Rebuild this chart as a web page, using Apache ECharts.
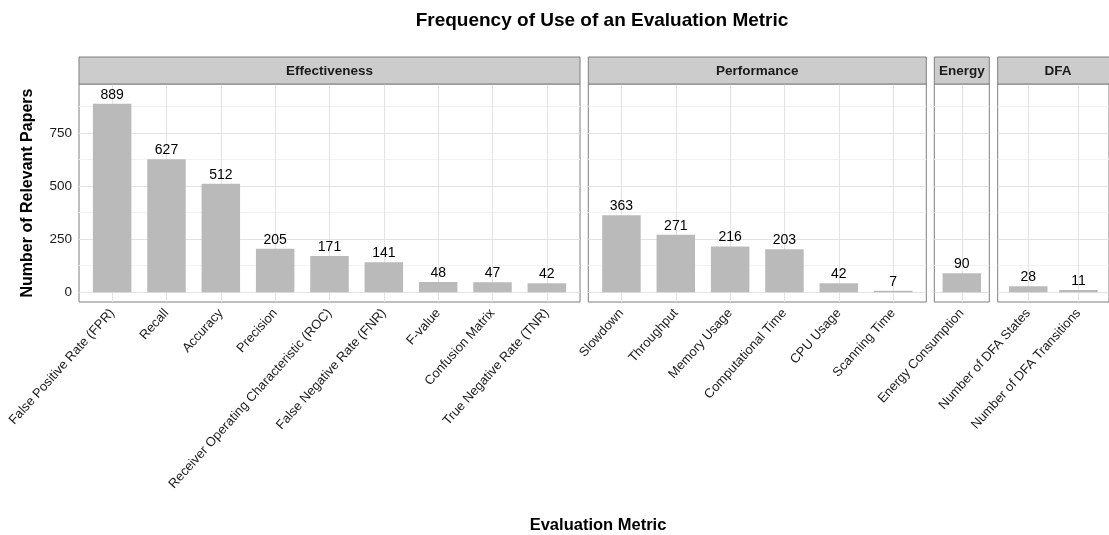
<!DOCTYPE html>
<html>
<head>
<meta charset="utf-8">
<script src="https://cdn.jsdelivr.net/npm/echarts@6/dist/echarts.min.js"></script>
<style>
html,body{margin:0;padding:0;background:#fff;overflow:hidden;}
#chart{width:1109px;height:535px;}
</style>
</head>
<body>
<div id="chart"></div>
<script>
// ---- data ----
const panelNames = ['Effectiveness', 'Performance', 'Energy', 'DFA'];
const effectivenessCats = ['False Positive Rate (FPR)', 'Recall', 'Accuracy', 'Precision', 'Receiver Operating Characteristic (ROC)', 'False Negative Rate (FNR)', 'F-value', 'Confusion Matrix', 'True Negative Rate (TNR)'];
const effectivenessVals = [889, 627, 512, 205, 171, 141, 48, 47, 42];
const performanceCats = ['Slowdown', 'Throughput', 'Memory Usage', 'Computational Time', 'CPU Usage', 'Scanning Time'];
const performanceVals = [363, 271, 216, 203, 42, 7];
const energyCats = ['Energy Consumption'];
const energyVals = [90];
const dfaCats = ['Number of DFA States', 'Number of DFA Transitions'];
const dfaVals = [28, 11];
const yTicks = [0, 250, 500, 750];
const yMinorLines = [125, 375, 625, 875];

// ---- layout ----
const panelLeft = [79, 588.3, 934.3, 997.7];
const panelWidth = [501, 338, 55, 120.6];
const panelPad = [0.61, 0.61, 0.5, 0.61];
const panelTop = 84, panelHeight = 218, stripTop = 57, stripHeight = 27;
const font = 'Liberation Sans, Arial, Helvetica, sans-serif';

const cats = [effectivenessCats, performanceCats, energyCats, dfaCats];
const vals = [effectivenessVals, performanceVals, energyVals, dfaVals];

const grids = [], xAxes = [], yAxes = [], series = [], graphics = [];
for (let i = 0; i < 4; i++) {
  const names = cats[i];
  const idx = names.map((_, k) => k);
  grids.push({left: panelLeft[i], top: panelTop, width: panelWidth[i], height: panelHeight,
    show: true, borderColor: '#7f7f7f', borderWidth: 1, backgroundColor: 'transparent'});
  xAxes.push({type: 'value', gridIndex: i, min: -panelPad[i], max: names.length - 1 + panelPad[i],
    axisLine: {show: false},
    axisTick: {show: true, length: 4, customValues: idx, lineStyle: {color: '#333'}},
    splitLine: {show: false},
    axisLabel: {customValues: idx, formatter: v => names[Math.round(v)], rotate: 48,
      fontSize: 13, color: '#1a1a1a', fontFamily: font, margin: 9}
  });
  yAxes.push({type: 'value', gridIndex: i, min: -46, max: 982,
    axisLine: {show: false},
    axisTick: {show: i === 0, length: 4, customValues: yTicks, lineStyle: {color: '#333'}},
    axisLabel: {show: i === 0, customValues: yTicks, fontSize: 13.5, color: '#1a1a1a', fontFamily: font, margin: 7},
    splitLine: {show: false},
    name: i === 0 ? 'Number of Relevant Papers' : '',
    nameLocation: 'middle', nameGap: 43, nameRotate: 90,
    nameTextStyle: {fontSize: 16, fontWeight: 'bold', color: '#000', fontFamily: font}
  });
  const gridLines = yMinorLines.map(v => ({yAxis: v, lineStyle: {color: '#f2f2f2', width: 1, type: 'solid'}}))
    .concat(yTicks.map(v => ({yAxis: v, lineStyle: {color: '#e3e3e3', width: 1, type: 'solid'}})))
    .concat(idx.map(k => ({xAxis: k, lineStyle: {color: '#e3e3e3', width: 1, type: 'solid'}})));
  series.push({type: 'bar', xAxisIndex: i, yAxisIndex: i,
    data: vals[i].map((v, k) => [k, v]), barWidth: 38.5,
    itemStyle: {color: '#bababa'}, z: 3,
    label: {show: true, position: 'top', distance: 2, fontSize: 14, color: '#000', fontFamily: font,
      formatter: p => p.value[1]},
    markLine: {silent: true, symbol: 'none', z: 1, animation: false, label: {show: false},
      data: gridLines}
  });
  graphics.push({type: 'rect', z: 10, shape: {x: panelLeft[i], y: stripTop, width: panelWidth[i], height: stripHeight},
    style: {fill: '#cccccc', stroke: '#7f7f7f', lineWidth: 1}});
  graphics.push({type: 'text', z: 11, x: panelLeft[i] + panelWidth[i] / 2, y: stripTop + stripHeight / 2 + 0.5,
    style: {text: panelNames[i], font: 'bold 13.5px ' + font, fill: '#1a1a1a', align: 'center', verticalAlign: 'middle'}});
}
graphics.push({type: 'text', x: 598, y: 525,
  style: {text: 'Evaluation Metric', font: 'bold 16.5px ' + font, fill: '#000', align: 'center', verticalAlign: 'middle'}});

const chart = echarts.init(document.getElementById('chart'));
chart.setOption({
  animation: false,
  backgroundColor: '#fff',
  title: {text: 'Frequency of Use of an Evaluation Metric', left: 597, top: 6, textAlign: 'center',
    textStyle: {fontSize: 19, fontWeight: 'bold', color: '#000', fontFamily: font}},
  grid: grids, xAxis: xAxes, yAxis: yAxes, series: series, graphic: graphics
});
</script>
</body>
</html>
